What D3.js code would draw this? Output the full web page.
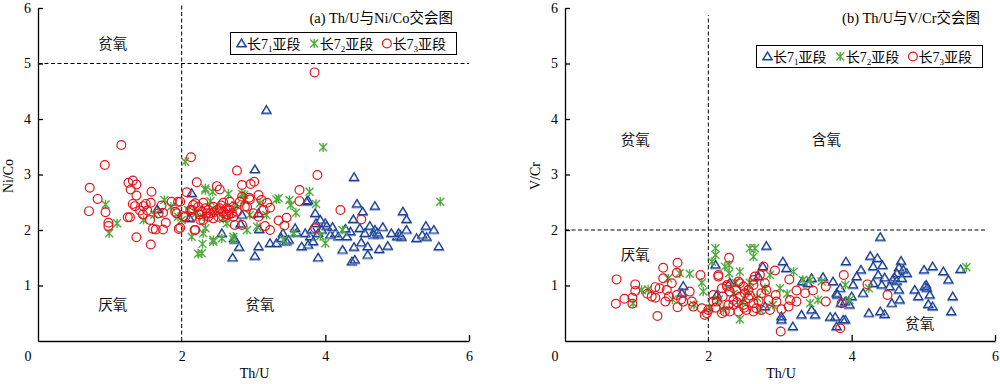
<!DOCTYPE html>
<html>
<head>
<meta charset="utf-8">
<script src="https://cdn.jsdelivr.net/npm/d3@7"></script>
<style>
body { margin: 0; background: #fff; }
text { font-family: "Liberation Serif", "Times New Roman", "Noto Sans CJK SC", serif; fill: #000; }
.cjk { font-family: "Noto Sans CJK SC", sans-serif; }
</style>
</head>
<body>
<svg id="chart" width="1000" height="384"></svg>
<script>
// tick labels
var xTicks = [2, 4, 6];
var yTicks = [1, 2, 3, 4, 5, 6];
var legendSubs = ["1", "2", "3"];

// (a) Th/U vs Ni/Co
var ch71A = [[1.66,2.37],[2.14,2.66],[2.11,2.21],[2.56,1.94],[2.73,1.85],[2.80,1.69],[2.71,1.50],[2.82,2.11],[2.84,2.27],[3.02,3.09],[3.18,4.16],[4.40,2.95],[3.76,2.53],[4.44,2.47],[4.69,2.43],[3.86,2.30],[4.52,2.33],[5.08,2.33],[5.13,2.19],[4.39,2.19],[3.93,2.18],[4.00,2.12],[4.02,2.07],[4.62,2.07],[4.69,2.00],[4.72,1.95],[4.67,1.91],[4.74,1.91],[4.48,2.03],[4.55,1.94],[4.35,1.97],[4.30,1.88],[4.14,1.94],[4.18,1.88],[4.07,1.91],[3.72,1.94],[3.79,1.88],[3.81,2.00],[3.87,2.12],[3.95,2.00],[3.90,1.94],[3.83,1.79],[3.76,1.73],[3.67,1.70],[4.24,1.64],[4.40,1.69],[4.50,1.77],[4.59,1.70],[4.75,1.65],[4.87,1.71],[5.00,1.88],[5.04,1.91],[5.02,1.94],[5.06,1.87],[4.92,1.94],[5.13,2.00],[5.27,1.85],[5.35,1.91],[5.40,2.07],[5.51,2.00],[5.58,1.70],[5.41,1.87],[3.90,1.50],[4.37,1.43],[4.41,1.46],[4.59,1.55],[3.02,1.53],[3.07,1.70],[3.23,1.76],[3.32,1.76],[3.41,1.94],[3.39,1.85],[3.46,1.79],[3.49,1.82],[3.07,2.30],[3.08,2.01],[3.74,2.51],[2.74,1.82],[3.60,1.95],[4.10,2.05],[4.28,2.02],[4.80,2.05],[3.58,2.03]];
var ch72A = [[0.94,2.46],[1.10,2.12],[0.99,1.94],[1.76,2.54],[1.47,2.18],[1.62,2.28],[2.05,3.23],[2.14,1.88],[2.29,1.75],[2.23,1.57],[2.44,1.79],[2.56,1.85],[2.72,1.88],[2.30,1.94],[2.33,2.75],[2.43,2.69],[2.65,2.65],[2.84,2.65],[2.09,2.36],[1.95,2.24],[2.30,2.24],[2.63,2.12],[2.91,2.00],[2.33,2.72],[2.87,2.63],[3.35,2.57],[3.50,2.54],[3.78,2.69],[3.59,2.31],[3.97,3.49],[3.18,2.27],[3.56,1.94],[2.72,1.83],[2.44,1.82],[2.28,1.58],[2.33,2.03],[3.05,2.06],[2.95,2.27],[4.00,1.76],[3.87,2.47],[3.32,2.55],[3.52,2.45],[5.60,2.51],[3.42,1.82],[3.93,1.89],[4.24,2.00],[2.87,2.54],[3.09,2.48],[2.20,2.30],[2.48,2.35],[2.58,2.20],[2.75,2.45],[2.40,2.52],[1.85,2.42],[2.00,2.18]];
var ch73A = [[0.72,2.76],[0.71,2.34],[0.83,2.56],[0.93,3.17],[0.94,2.32],[0.98,2.13],[0.98,2.07],[1.16,3.53],[1.26,2.85],[1.29,2.73],[1.32,2.89],[1.37,2.82],[1.37,2.62],[1.32,2.47],[1.25,2.23],[1.28,2.23],[1.37,1.87],[1.42,2.35],[1.35,2.43],[1.47,2.43],[1.50,2.47],[1.58,2.69],[1.57,2.49],[1.56,2.18],[1.57,1.74],[1.60,2.02],[1.64,2.01],[1.74,2.01],[1.74,2.31],[1.78,2.13],[1.86,2.51],[1.91,2.33],[1.98,2.51],[1.98,2.04],[1.96,2.02],[2.02,2.25],[2.07,2.68],[2.13,3.31],[2.21,2.86],[2.18,2.00],[2.26,2.18],[2.14,2.36],[2.49,2.79],[2.53,2.73],[2.77,3.07],[2.84,2.81],[2.96,2.83],[3.01,2.87],[3.07,2.63],[3.11,2.54],[3.23,2.40],[3.14,2.36],[3.19,2.49],[2.95,2.55],[2.91,2.42],[3.00,2.30],[3.07,2.24],[2.74,2.09],[2.84,2.09],[3.64,2.72],[3.64,2.52],[3.89,2.99],[4.21,2.36],[4.50,2.19],[3.86,2.03],[3.46,2.22],[3.43,2.08],[3.35,2.17],[3.23,2.00],[3.16,2.07],[3.85,4.84],[2.30,2.18],[2.19,2.00],[1.95,2.51],[1.93,2.30],[2.12,2.36],[2.19,2.48],[2.23,2.42],[2.28,2.33],[2.33,2.39],[2.37,2.36],[2.40,2.30],[2.44,2.42],[2.49,2.36],[2.53,2.39],[2.58,2.33],[2.63,2.39],[2.67,2.36],[2.72,2.42],[2.77,2.33],[2.81,2.51],[2.88,2.42],[2.37,2.24],[2.44,2.21],[2.51,2.24],[2.58,2.23],[2.65,2.27],[2.72,2.24],[2.14,2.24],[2.05,2.24],[2.30,2.49],[2.58,2.49],[2.67,2.51],[2.84,2.60],[2.94,2.58],[2.16,2.45],[2.35,2.30],[2.45,2.32],[2.55,2.44],[2.62,2.28],[2.70,2.30],[2.25,2.28],[1.68,2.30],[1.72,2.44],[1.46,2.28],[1.52,2.35]];

// (b) Th/U vs V/Cr
var ch71B = [[1.65,0.99],[1.63,0.86],[2.10,1.37],[2.81,1.71],[2.76,1.34],[2.70,1.16],[3.04,1.43],[3.09,1.31],[3.31,1.07],[3.39,1.04],[3.92,1.43],[3.74,1.07],[3.02,0.44],[3.02,0.38],[3.18,0.26],[3.30,0.47],[3.49,0.47],[3.44,0.56],[3.70,0.43],[3.77,0.43],[3.91,0.38],[3.79,0.26],[2.79,0.62],[2.12,0.83],[3.79,0.86],[3.84,0.95],[3.91,0.71],[4.40,1.87],[4.26,1.53],[4.36,1.49],[4.30,1.34],[4.43,1.36],[4.13,1.28],[4.37,1.19],[4.07,1.16],[4.69,1.44],[4.66,1.32],[4.72,1.28],[4.77,1.22],[4.63,1.22],[4.60,1.14],[4.57,1.10],[4.63,1.08],[4.70,1.13],[4.46,1.14],[4.30,1.04],[4.53,0.98],[4.42,1.01],[4.16,0.86],[4.02,1.01],[4.00,0.80],[3.97,0.65],[3.88,0.38],[4.24,0.50],[4.40,0.53],[4.46,0.48],[4.56,0.68],[4.67,0.74],[4.66,0.92],[4.88,0.92],[4.93,0.80],[5.01,1.28],[5.13,1.34],[5.28,1.25],[5.35,1.10],[5.04,1.01],[5.02,0.98],[5.05,0.95],[5.09,0.83],[5.07,0.66],[5.13,0.62],[5.41,0.80],[5.39,0.53],[5.52,1.29],[3.44,1.13],[3.80,0.83],[3.85,0.68],[3.60,1.15],[2.30,1.05]];
var ch72B = [[1.07,0.92],[1.16,0.93],[0.95,0.68],[1.74,1.21],[1.60,1.22],[1.91,1.05],[1.93,0.89],[2.10,1.67],[2.10,1.55],[2.05,1.43],[2.29,1.37],[2.58,1.67],[2.65,1.67],[2.63,1.52],[2.44,0.39],[2.23,1.34],[1.44,1.13],[1.50,0.75],[2.29,1.22],[2.44,1.25],[2.86,1.19],[3.19,1.25],[3.32,1.10],[3.42,1.10],[3.58,1.07],[3.53,0.74],[3.42,0.68],[2.72,0.56],[3.00,0.95],[2.21,0.56],[2.02,0.59],[2.79,0.95],[5.60,1.33],[4.24,0.95],[3.97,0.74],[3.91,1.01],[2.35,0.85],[2.55,0.90],[2.48,0.70],[2.68,0.78],[2.15,0.75],[2.90,0.65],[3.10,0.85],[1.80,0.65],[2.38,1.05],[2.58,1.05]];
var ch73B = [[0.72,1.11],[0.71,0.67],[0.83,0.76],[0.94,0.78],[0.94,0.67],[0.98,1.02],[0.98,0.90],[1.29,0.45],[1.26,0.97],[1.26,0.78],[1.37,1.32],[1.37,1.13],[1.32,0.95],[1.42,0.92],[1.40,0.71],[1.49,1.04],[1.57,1.41],[1.56,1.23],[1.56,0.83],[1.57,0.61],[1.65,0.71],[1.74,0.89],[1.77,0.71],[1.79,0.62],[1.89,1.19],[1.91,0.59],[1.95,0.47],[2.00,0.56],[2.07,0.83],[2.14,1.19],[2.29,1.50],[2.19,0.95],[2.26,0.98],[2.12,0.71],[2.23,0.53],[2.35,0.65],[2.44,1.04],[2.51,0.86],[2.63,1.01],[2.65,1.16],[2.77,1.34],[1.15,0.85],[1.21,0.80],[1.45,0.80],[1.62,0.75],[2.42,1.07],[2.49,0.98],[2.72,1.19],[2.93,1.27],[3.13,1.11],[3.23,0.91],[3.35,0.86],[3.46,0.91],[3.64,0.98],[3.64,0.71],[3.89,1.19],[3.84,0.23],[3.01,0.17],[3.23,0.71],[3.12,0.62],[3.02,0.57],[2.84,0.74],[2.94,0.83],[2.74,0.86],[2.86,0.56],[2.67,0.59],[2.53,0.56],[2.42,0.53],[2.30,0.53],[2.19,0.50],[1.98,0.50],[2.07,0.71],[2.35,0.74],[2.44,0.80],[2.56,0.77],[2.63,0.68],[2.28,0.65],[2.49,0.65],[2.63,0.53],[2.74,0.56],[2.39,0.92],[2.56,0.92],[2.30,0.89],[2.81,0.92],[2.95,0.71],[3.14,0.74],[2.14,1.16],[2.26,1.01],[2.63,1.10],[2.79,1.04],[4.22,1.02],[4.50,0.83],[3.86,0.68],[2.20,0.80],[2.40,0.70],[2.58,0.82],[2.70,0.72],[2.10,0.60],[2.50,0.60]];

// region labels [text, Th/U, ratio]
var regionsA = [["贫氧", 1.04, 5.35], ["厌氧", 1.04, 0.65], ["贫氧", 3.09, 0.65]];
var regionsB = [["贫氧", 0.98, 3.62], ["含氧", 3.65, 3.62], ["厌氧", 0.98, 1.55], ["贫氧", 4.95, 0.30]];

// dashed guide lines [x1, y1, x2, y2] in data units
var guidesA = [[2, 0, 2, 6.07], [0, 5, 6, 5]];
var guidesB = [[2, 0, 2, 5.87], [0, 2, 5.89, 2]];

var blue = "#1c3f94", green = "#4fab3c", red = "#e3141b";
var svg = d3.select("#chart");

var triPath = "M0,-4.6L4.6,3L-4.6,3Z";
var starPath = "M-4,-4L4,4M-4,4L4,-4M0,-4.6L0,4.6";

function drawMarker(g, kind, px, py) {
  if (kind == 0) {
    g.append("path").attr("d", triPath).attr("transform", "translate(" + px + "," + (py + 1) + ")")
      .attr("fill", "none").attr("stroke", "#8aa6d6").attr("stroke-width", 1.2);
    g.append("path").attr("d", triPath).attr("transform", "translate(" + px + "," + py + ")")
      .attr("fill", "none").attr("stroke", blue).attr("stroke-width", 1.2);
  } else if (kind == 1) {
    g.append("path").attr("d", starPath).attr("transform", "translate(" + px + "," + py + ")")
      .attr("fill", "none").attr("stroke", green).attr("stroke-width", 1.4);
  } else {
    g.append("circle").attr("cx", px).attr("cy", py).attr("r", 4.4)
      .attr("fill", "none").attr("stroke", red).attr("stroke-width", 1.2);
  }
}

var makePanel = function(opt) {
  var x = d3.scaleLinear().domain([0, 6]).range([opt.left, opt.right]);
  var y = d3.scaleLinear().domain([0, 6]).range([341, 8]);
  var g = svg.append("g");

  // guide lines
  g.selectAll(".guide").data(opt.guides).enter().append("line")
    .attr("x1", function(d) { return x(d[0]); })
    .attr("y1", function(d) { return y(d[1]); })
    .attr("x2", function(d) { return x(d[2]); })
    .attr("y2", function(d) { return y(d[3]); })
    .attr("stroke", "#000").attr("stroke-width", 1).attr("stroke-dasharray", "4,2.5");

  // axes
  var xAxis = g.append("g").attr("transform", "translate(0,341)")
    .call(d3.axisBottom(x).tickValues(xTicks).tickSizeInner(-6).tickSizeOuter(0).tickPadding(10).tickFormat(d3.format("d")));
  var yAxis = g.append("g").attr("transform", "translate(" + opt.left + ",0)")
    .call(d3.axisLeft(y).tickValues(yTicks).tickSizeInner(-5).tickSizeOuter(0).tickPadding(7).tickFormat(d3.format("d")));
  [xAxis, yAxis].forEach(function(a) {
    a.selectAll("path, line").attr("stroke", "#000").attr("stroke-width", 1.3);
    a.selectAll("text").style("font-size", "14px").attr("fill", "#000");
  });
  xAxis.selectAll(".tick").filter(function(d) { return d == 2; }).select("line").remove();
  g.append("text").attr("x", opt.left - 10).attr("y", 361).attr("text-anchor", "middle")
    .style("font-size", "14px").text("0");

  // axis titles
  g.append("text").attr("x", (opt.left + opt.right) / 2 + 1).attr("y", 378).attr("text-anchor", "middle")
    .style("font-size", "14px").text("Th/U");
  g.append("text").attr("transform", "translate(" + opt.ytx + ",176) rotate(-90)").attr("text-anchor", "middle")
    .style("font-size", "14px").text(opt.ytitle);

  // title
  g.append("text").attr("x", opt.titleX).attr("y", 23).attr("text-anchor", "end")
    .style("font-size", "14.5px").text(opt.title);

  // region labels
  g.selectAll(".region").data(opt.regions).enter().append("text").attr("class", "cjk")
    .attr("x", function(d) { return x(d[1]); })
    .attr("y", function(d) { return y(d[2]) + 5; })
    .attr("text-anchor", "middle").style("font-size", "14.5px").style("fill", "#111")
    .text(function(d) { return d[0]; });

  // points
  opt.series.forEach(function(s, i) {
    var sg = g.append("g");
    s.forEach(function(d) { drawMarker(sg, i, x(d[0]), y(d[1])); });
  });

  // legend
  var lg = g.append("g").attr("transform", "translate(" + opt.legX + "," + opt.legY + ")");
  lg.append("rect").attr("x", 0.5).attr("y", 0.5).attr("width", 226).attr("height", 22)
    .attr("fill", "#fff").attr("stroke", "#000").attr("stroke-width", 1);
  legendSubs.forEach(function(sub, i) {
    var ox = i * 72.7;
    drawMarker(lg, i, ox + 11.5, 11.5);
    var t = lg.append("text").attr("x", ox + 17).attr("y", 16.5).style("font-size", "14px");
    t.append("tspan").attr("class", "cjk").text("长");
    t.append("tspan").text("7");
    t.append("tspan").attr("dy", 3).style("font-size", "9px").text(sub);
    t.append("tspan").attr("dy", -3).attr("class", "cjk").text("亚段");
  });
};

makePanel({left: 38, right: 469, guides: guidesA, regions: regionsA, series: [ch71A, ch72A, ch73A],
  ytitle: "Ni/Co", ytx: 13, title: "(a) Th/U与Ni/Co交会图", titleX: 453, legX: 230, legY: 32});
makePanel({left: 565, right: 995, guides: guidesB, regions: regionsB, series: [ch71B, ch72B, ch73B],
  ytitle: "V/Cr", ytx: 540, title: "(b) Th/U与V/Cr交会图", titleX: 980, legX: 756, legY: 45});
</script>
</body>
</html>
